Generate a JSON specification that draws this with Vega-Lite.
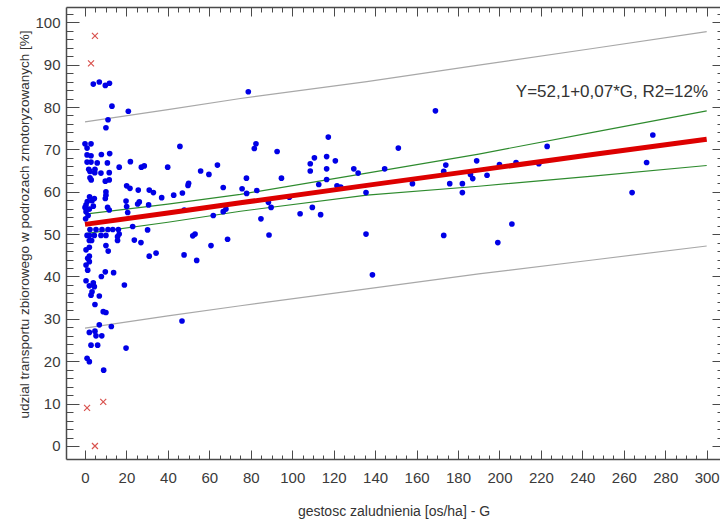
{
  "$schema": "https://vega.github.io/schema/vega-lite/v6.json",
  "width": 655,
  "height": 452,
  "autosize": {"type": "none"},
  "padding": {"left": 66, "top": 7, "right": 0, "bottom": 62},
  "background": "white",
  "config": {
    "view": {"stroke": null},
    "axis": {
      "grid": false,
      "domainColor": "#4a4a4a",
      "domainWidth": 1.5,
      "tickColor": "#4a4a4a",
      "tickWidth": 1,
      "labelFont": "Liberation Sans Narrow, Arial Narrow, Liberation Sans",
      "labelFontSize": 15,
      "labelColor": "#3a3a3a",
      "labelFlush": false,
      "labelOverlap": false,
      "titleFont": "Liberation Sans",
      "titleFontWeight": "normal",
      "titleColor": "#333333"
    }
  },
  "datasets": {
    "pts": [
      {"G":4.0,"Y":85.4},{"G":6.9,"Y":85.9},{"G":9.8,"Y":85.1},{"G":11.8,"Y":85.6},
      {"G":13.0,"Y":80.2},{"G":20.9,"Y":79.0},{"G":11.1,"Y":77.0},{"G":10.1,"Y":75.1},
      {"G":0.0,"Y":71.3},{"G":2.9,"Y":71.3},{"G":1.0,"Y":70.3},
      {"G":1.0,"Y":68.7},{"G":2.9,"Y":68.5},{"G":7.9,"Y":68.8},{"G":11.9,"Y":69.0},
      {"G":1.0,"Y":67.0},{"G":2.9,"Y":67.0},{"G":5.9,"Y":66.8},{"G":10.8,"Y":66.8},
      {"G":16.5,"Y":65.8},{"G":21.9,"Y":67.1},{"G":27.2,"Y":65.8},{"G":28.6,"Y":66.1},
      {"G":1.8,"Y":65.3},{"G":4.8,"Y":65.3},
      {"G":2.4,"Y":64.8},{"G":4.7,"Y":64.5},{"G":7.7,"Y":64.4},{"G":11.7,"Y":64.5},
      {"G":2.4,"Y":63.3},{"G":11.7,"Y":62.8},{"G":3.0,"Y":62.8},{"G":9.8,"Y":62.5},
      {"G":10.1,"Y":60.0},{"G":10.1,"Y":59.2},{"G":9.8,"Y":58.4},
      {"G":20.1,"Y":61.4},{"G":21.7,"Y":60.8},{"G":25.7,"Y":60.4},{"G":31.0,"Y":60.4},{"G":33.0,"Y":59.8},
      {"G":2.2,"Y":58.8},{"G":1.1,"Y":57.7},{"G":4.5,"Y":58.4},{"G":3.4,"Y":57.9},
      {"G":0.5,"Y":56.9},{"G":0.0,"Y":56.3},{"G":0.5,"Y":55.3},{"G":2.1,"Y":55.9},{"G":4.0,"Y":56.6},
      {"G":10.9,"Y":56.3},{"G":11.7,"Y":55.7},
      {"G":19.8,"Y":57.8},{"G":20.1,"Y":56.5},{"G":25.4,"Y":57.1},{"G":26.2,"Y":57.6},{"G":30.7,"Y":56.9},{"G":20.6,"Y":55.1},
      {"G":0.3,"Y":53.6},{"G":1.5,"Y":54.4},
      {"G":2.4,"Y":51.1},{"G":5.3,"Y":51.1},{"G":8.2,"Y":51.1},{"G":11.1,"Y":51.1},{"G":13.4,"Y":51.1},{"G":16.1,"Y":51.1},
      {"G":23.0,"Y":51.8},{"G":30.2,"Y":51.0},
      {"G":1.0,"Y":49.7},{"G":2.1,"Y":49.7},{"G":4.5,"Y":49.7},{"G":7.7,"Y":49.7},{"G":10.1,"Y":49.7},{"G":15.7,"Y":49.4},{"G":16.5,"Y":50.0},
      {"G":2.1,"Y":48.5},{"G":3.2,"Y":48.5},{"G":15.7,"Y":48.5},
      {"G":23.8,"Y":48.6},{"G":27.0,"Y":48.0},
      {"G":10.1,"Y":47.3},{"G":2.1,"Y":46.9},{"G":0.5,"Y":46.3},{"G":11.2,"Y":46.0},
      {"G":2.1,"Y":44.8},{"G":1.3,"Y":44.3},{"G":31.0,"Y":44.8},{"G":34.3,"Y":45.5},
      {"G":0.5,"Y":42.7},{"G":2.1,"Y":43.5},
      {"G":1.3,"Y":41.5},{"G":9.8,"Y":41.1},{"G":13.8,"Y":40.9},{"G":7.9,"Y":40.0},
      {"G":0.5,"Y":39.0},{"G":4.0,"Y":38.5},{"G":2.1,"Y":37.8},{"G":4.5,"Y":37.6},{"G":19.0,"Y":38.0},
      {"G":3.4,"Y":36.4},{"G":2.9,"Y":35.6},{"G":6.9,"Y":35.4},
      {"G":4.8,"Y":33.4},{"G":8.8,"Y":31.7},{"G":10.1,"Y":31.5},
      {"G":6.9,"Y":28.6},{"G":12.7,"Y":28.2},
      {"G":2.1,"Y":26.8},{"G":4.8,"Y":27.1},{"G":5.3,"Y":26.0},{"G":8.1,"Y":26.0},
      {"G":2.9,"Y":23.8},{"G":6.1,"Y":23.8},{"G":19.8,"Y":23.1},
      {"G":1.0,"Y":20.7},{"G":2.1,"Y":19.9},{"G":9.0,"Y":17.9},
      {"G":78.8,"Y":83.6},{"G":45.8,"Y":70.7},{"G":82.5,"Y":71.3},{"G":81.7,"Y":70.2},{"G":92.7,"Y":69.5},{"G":117.4,"Y":72.9},
      {"G":39.9,"Y":65.8},{"G":55.8,"Y":64.9},{"G":59.8,"Y":64.1},{"G":63.9,"Y":66.3},
      {"G":50.0,"Y":62.0},{"G":49.7,"Y":61.5},{"G":77.9,"Y":63.2},{"G":94.8,"Y":63.2},
      {"G":108.7,"Y":66.6},{"G":110.7,"Y":68.0},{"G":108.7,"Y":64.9},{"G":116.6,"Y":68.3},{"G":116.6,"Y":65.4},{"G":116.6,"Y":62.9},{"G":112.8,"Y":61.7},
      {"G":66.7,"Y":61.0},{"G":75.8,"Y":60.7},{"G":82.9,"Y":60.3},{"G":78.0,"Y":59.6},
      {"G":37.0,"Y":58.6},{"G":42.8,"Y":59.2},{"G":47.0,"Y":59.7},
      {"G":47.9,"Y":55.7},{"G":61.9,"Y":54.4},{"G":66.7,"Y":55.3},{"G":68.0,"Y":55.9},
      {"G":88.5,"Y":57.5},{"G":89.8,"Y":56.3},{"G":84.9,"Y":53.6},{"G":88.8,"Y":49.8},
      {"G":103.8,"Y":54.8},{"G":109.7,"Y":56.3},{"G":113.7,"Y":54.6},
      {"G":52.0,"Y":49.6},{"G":53.1,"Y":50.0},{"G":60.8,"Y":47.3},{"G":68.8,"Y":48.8},
      {"G":47.8,"Y":45.1},{"G":53.9,"Y":43.8},{"G":46.8,"Y":29.5},
      {"G":98.6,"Y":58.7},
      {"G":120.8,"Y":67.3},{"G":129.7,"Y":65.4},{"G":131.8,"Y":64.4},{"G":121.6,"Y":61.4},{"G":123.4,"Y":61.1},
      {"G":135.6,"Y":59.8},{"G":135.6,"Y":50.0},{"G":138.7,"Y":40.4},
      {"G":151.2,"Y":70.3},{"G":144.6,"Y":65.4},{"G":158.0,"Y":61.9},{"G":169.1,"Y":79.1},
      {"G":174.1,"Y":66.3},{"G":173.1,"Y":64.8},{"G":176.0,"Y":61.9},{"G":182.1,"Y":61.9},{"G":182.1,"Y":59.8},
      {"G":186.0,"Y":64.1},{"G":187.1,"Y":63.1},{"G":189.0,"Y":67.3},{"G":173.1,"Y":49.7},
      {"G":194.0,"Y":63.9},{"G":200.0,"Y":66.4},{"G":208.0,"Y":66.9},{"G":219.0,"Y":66.6},{"G":223.0,"Y":70.7},
      {"G":206.0,"Y":52.4},{"G":199.2,"Y":48.0},{"G":264.0,"Y":59.8},{"G":271.0,"Y":66.9},{"G":274.0,"Y":73.4}
    ],
    "outliers": [
      {"G":4.8,"Y":96.8},{"G":2.9,"Y":90.3},{"G":1.0,"Y":9.0},{"G":8.8,"Y":10.4},{"G":4.8,"Y":0.0}
    ],
    "band": [
      {"G":0,"fit":52.3,"ci_lo":50.1,"ci_hi":54.7,"pi_lo":27.8,"pi_hi":76.5},
      {"G":40,"fit":55.0,"ci_lo":52.8,"ci_hi":57.1,"pi_lo":30.7,"pi_hi":79.4},
      {"G":75,"fit":57.4,"ci_lo":55.4,"ci_hi":59.4,"pi_lo":33.1,"pi_hi":82.0},
      {"G":136,"fit":61.5,"ci_lo":59.2,"ci_hi":64.4,"pi_lo":37.1,"pi_hi":86.0},
      {"G":190,"fit":65.1,"ci_lo":61.3,"ci_hi":68.9,"pi_lo":40.6,"pi_hi":89.9},
      {"G":245,"fit":68.8,"ci_lo":63.7,"ci_hi":74.0,"pi_lo":43.9,"pi_hi":93.8},
      {"G":300,"fit":72.4,"ci_lo":66.2,"ci_hi":79.1,"pi_lo":47.2,"pi_hi":97.8}
    ],
    "note": [
      {"G":300.7,"Y":83.6,"label":"Y=52,1+0,07*G, R2=12%"}
    ]
  },
  "layer": [
    {
      "encoding": {
        "x": {
          "field": "G",
          "type": "quantitative",
          "scale": {"domain": [-9.17, 306.9], "nice": false, "zero": false},
          "axis": {
            "orient": "bottom",
            "title": "gestosc zaludnienia [os/ha] - G",
            "titleFontSize": 14,
            "titleBaseline": "alphabetic",
            "titleY": 56,
            "values": [0,5,10,15,20,25,30,35,40,45,50,55,60,65,70,75,80,85,90,95,100,105,110,115,120,125,130,135,140,145,150,155,160,165,170,175,180,185,190,195,200,205,210,215,220,225,230,235,240,245,250,255,260,265,270,275,280,285,290,295,300],
            "format": "d",
            "labelOverlap": false,
            "labelExpr": "datum.value % 20 === 0 ? datum.label : ''",
            "tickSize": {"condition": {"test": "datum.value % 20 === 0", "value": -9}, "value": -4},
            "labelPadding": 20
          }
        },
        "y": {
          "field": "Y",
          "type": "quantitative",
          "title": "udzial transportu zbiorowego w podrozach zmotoryzowanych [%]",
          "scale": {"domain": [-3.07, 103.6], "nice": false, "zero": false},
          "axis": {
            "orient": "left",
            "titleFontSize": 13.5,
            "titleBaseline": "alphabetic",
            "titleX": -38,
            "titleY": 217,
            "values": [0,2,4,6,8,10,12,14,16,18,20,22,24,26,28,30,32,34,36,38,40,42,44,46,48,50,52,54,56,58,60,62,64,66,68,70,72,74,76,78,80,82,84,86,88,90,92,94,96,98,100,102],
            "format": "d",
            "labelOverlap": false,
            "labelExpr": "datum.value % 10 === 0 ? datum.label : ''",
            "tickSize": {"condition": {"test": "datum.value % 10 === 0", "value": -13}, "value": -7},
            "labelPadding": 19
          }
        }
      },
      "layer": [
        {
          "data": {"name": "band"},
          "transform": [{"fold": ["pi_hi", "pi_lo", "ci_hi", "ci_lo"], "as": ["series", "Y"]}],
          "mark": {"type": "line", "strokeWidth": 1.2},
          "encoding": {
            "detail": {"field": "series"},
            "color": {
              "field": "series",
              "type": "nominal",
              "scale": {"domain": ["pi_hi", "pi_lo", "ci_hi", "ci_lo"], "range": ["#a8a8a8", "#a8a8a8", "#2e8b2e", "#2e8b2e"]},
              "legend": null
            }
          }
        },
        {
          "data": {"name": "pts"},
          "mark": {"type": "point", "filled": true, "shape": "circle", "size": 32, "color": "#0000e6", "opacity": 1}
        },
        {
          "data": {"name": "band"},
          "transform": [{"fold": ["fit"], "as": ["series", "Y"]}],
          "mark": {"type": "line", "color": "#dd0000", "strokeWidth": 5}
        },
        {
          "data": {"name": "outliers"},
          "mark": {"type": "point", "shape": "M-1,-1L1,1M1,-1L-1,1", "filled": false, "size": 36, "stroke": "#d9534f", "strokeWidth": 1.2, "opacity": 1}
        },
        {
          "data": {"name": "note"},
          "mark": {"type": "text", "align": "right", "baseline": "middle", "font": "Liberation Sans", "fontSize": 17, "color": "#333333"},
          "encoding": {"text": {"field": "label"}}
        }
      ]
    },
    {
      "data": {"name": "band"},
      "mark": {"type": "point", "opacity": 0},
      "encoding": {
        "x": {
          "field": "G",
          "type": "quantitative",
          "scale": {"domain": [-9.17, 306.9], "nice": false, "zero": false},
          "axis": {
            "orient": "top",
            "title": null,
            "labels": false,
            "values": [0,5,10,15,20,25,30,35,40,45,50,55,60,65,70,75,80,85,90,95,100,105,110,115,120,125,130,135,140,145,150,155,160,165,170,175,180,185,190,195,200,205,210,215,220,225,230,235,240,245,250,255,260,265,270,275,280,285,290,295,300],
            "tickSize": {"condition": {"test": "datum.value % 20 === 0", "value": -9}, "value": -5}
          }
        },
        "y": {
          "field": "fit",
          "type": "quantitative",
          "scale": {"domain": [-3.07, 103.6], "nice": false, "zero": false},
          "axis": {
            "orient": "right",
            "title": null,
            "labels": false,
            "values": [0,2,4,6,8,10,12,14,16,18,20,22,24,26,28,30,32,34,36,38,40,42,44,46,48,50,52,54,56,58,60,62,64,66,68,70,72,74,76,78,80,82,84,86,88,90,92,94,96,98,100,102],
            "tickSize": {"condition": {"test": "datum.value % 10 === 0", "value": -9}, "value": -4}
          }
        }
      }
    }
  ],
  "resolve": {
    "scale": {"x": "independent", "y": "independent"},
    "axis": {"x": "independent", "y": "independent"}
  }
}
